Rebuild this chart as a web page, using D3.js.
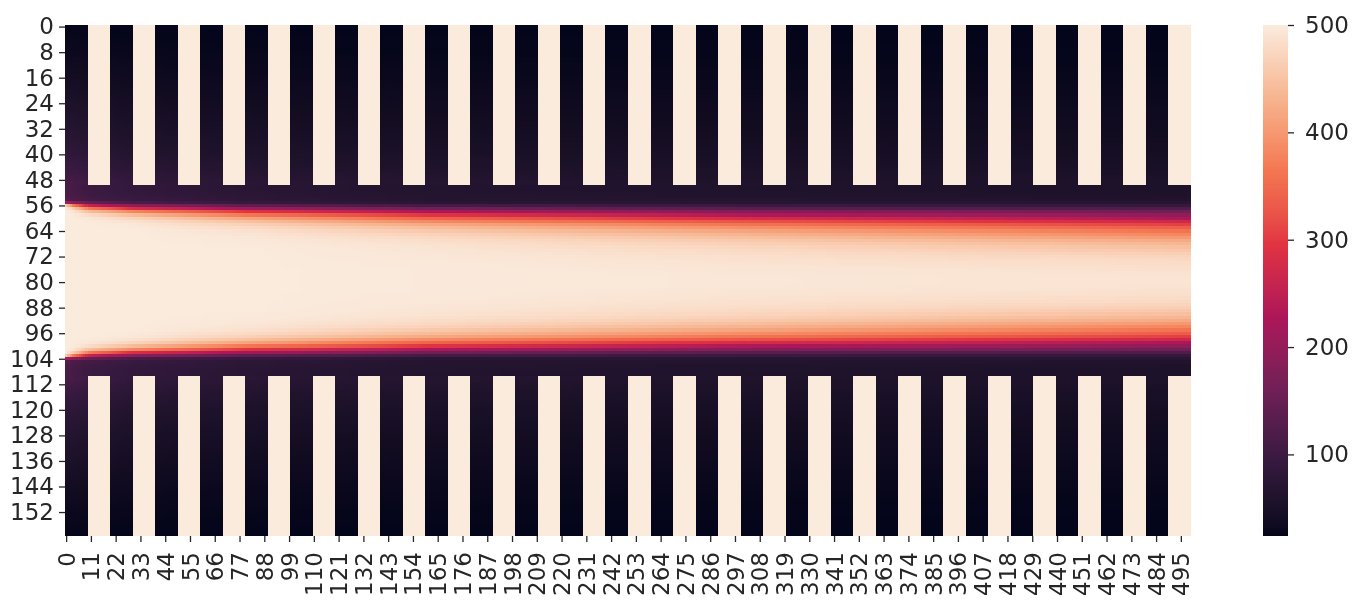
<!DOCTYPE html>
<html>
<head>
<meta charset="utf-8">
<script src="https://cdn.jsdelivr.net/npm/d3@7"></script>
<style>
  html, body { margin: 0; padding: 0; background: #fff; }
  #wrap { position: relative; width: 1366px; height: 605px; }
  canvas, svg { position: absolute; left: 0; top: 0; }
  text { font-family: "DejaVu Sans", sans-serif; }
</style>
</head>
<body>
<div id="wrap">
  <canvas id="cv" width="1366" height="605"></canvas>
  <svg id="sv" width="1366" height="605"></svg>
</div>
<script>
// ---------------- DATA ----------------
const nRows = 160;
const nCols = 500;
const vMin = 24;
const vMax = 500;
const stripeWidth = 10;          // columns per stripe (dark / hot alternating)
const bandStart = 50;            // first row of the hot channel
const bandEnd = 110;             // first row after the hot channel
const finValue = 500;            // value inside the hot stripes
const xTickStep = 11;
const yTickStep = 8;
const cbarTicks = [100, 200, 300, 400, 500];

// rocket colormap stops (fraction of range -> colour)
const rocketPos = [0, 1/7, 2/7, 3/7, 4/7, 5/7, 6/7, 1];
const rocketHex = ["#03051a", "#35193e", "#701f57", "#ad1759", "#e13342", "#f37651", "#f6b48f", "#faebdd"];

// hot channel: value at rows bandStart+k (k = 0..29), mirrored for the lower half
const bandCols = [0, 3, 10, 30, 80, 160, 300, 499];
const bandCol0   = [118,118,119,121,128,230,460,498,500,500,500,500,500,500,500,500,500,500,500,500,500,500,500,500,500,500,500,500,500,500];
const bandCol3   = [110,110,111,113,118,190,370,465,492,499,500,500,500,500,500,500,500,500,500,500,500,500,500,500,500,500,500,500,500,500];
const bandCol10  = [100,100,101,103,108,150,260,370,445,482,495,499,500,500,500,500,500,500,500,500,500,500,500,500,500,500,500,500,500,500];
const bandCol30  = [88,88,89,91,95,115,190,285,380,440,472,488,495,498,500,500,500,500,500,500,500,500,500,500,500,500,500,500,500,500];
const bandCol80  = [74,74,75,77,80,92,140,215,296,365,415,448,468,480,488,492,495,497,498,499,500,500,500,500,500,500,500,500,500,500];
const bandCol160 = [64,64,65,66,68,75,110,160,228,296,345,385,420,442,458,470,478,484,488,491,493,494,495,496,497,497,498,498,498,498];
const bandCol300 = [60,60,61,62,65,73,98,135,180,232,282,325,362,390,414,432,446,458,467,474,479,483,486,488,490,492,493,494,495,495];
const bandCol499 = [55,55,56,58,62,72,90,122,160,195,228,270,305,335,360,380,400,420,434,446,456,465,472,478,482,485,487,489,490,491];

// cold stripes: value at sample rows (distance from the outer edge), mirrored for the lower part
const darkRows = [0, 8, 16, 24, 32, 40, 45, 49];
const darkCols = [0, 25, 45, 100, 250, 499];
const darkCol0   = [26, 32, 42, 55, 68, 85, 100, 115];
const darkCol25  = [25, 29, 36, 45, 55, 68, 80, 90];
const darkCol45  = [25, 28, 33, 41, 50, 62, 73, 82];
const darkCol100 = [24, 27, 31, 37, 45, 55, 64, 72];
const darkCol250 = [24, 26, 29, 34, 40, 48, 55, 62];
const darkCol499 = [24, 25, 28, 32, 37, 44, 50, 55];

// ---------------- helpers ----------------
const bandProfiles = [bandCol0, bandCol3, bandCol10, bandCol30, bandCol80, bandCol160, bandCol300, bandCol499];
const darkProfiles = [darkCol0, darkCol25, darkCol45, darkCol100, darkCol250, darkCol499];

function between(arr, v) {
  let i = 0;
  while (i < arr.length - 2 && v > arr[i + 1]) i++;
  const t = Math.max(0, Math.min(1, (v - arr[i]) / (arr[i + 1] - arr[i])));
  return [i, t];
}
function bandValue(k, c) {
  const [i, t] = between(bandCols, c);
  return bandProfiles[i][k] * (1 - t) + bandProfiles[i + 1][k] * t;
}
function darkValue(r, c) {
  const [i, t] = between(darkCols, c);
  const [j, u] = between(darkRows, r);
  const a = darkProfiles[i][j] * (1 - u) + darkProfiles[i][j + 1] * u;
  const b = darkProfiles[i + 1][j] * (1 - u) + darkProfiles[i + 1][j + 1] * u;
  return a * (1 - t) + b * t;
}
function cellValue(r, c) {
  if (r < bandStart || r >= bandEnd) {
    const rr = r < bandStart ? r : (nRows - 1 - r);
    if (Math.floor(c / stripeWidth) % 2 === 1) return finValue;
    return darkValue(rr, c);
  }
  const k = r < (bandStart + bandEnd) / 2 ? r - bandStart : (bandEnd - 1 - r);
  return bandValue(k, c);
}

// ---------------- scales ----------------
const L = 65, R = 1191, T = 25, B = 536;
const x = d3.scaleLinear().domain([0, nCols]).range([L, R]);
const y = d3.scaleLinear().domain([0, nRows]).range([T, B]);
const color = d3.scaleLinear()
  .domain(rocketPos.map(p => vMin + p * (vMax - vMin)))
  .range(rocketHex)
  .interpolate(d3.interpolateLab)
  .clamp(true);

// ---------------- heatmap cells (canvas) ----------------
const ctx = document.getElementById("cv").getContext("2d");
for (let r = 0; r < nRows; r++) {
  const y0 = Math.round(y(r)), y1 = Math.round(y(r + 1));
  for (let c = 0; c < nCols; c++) {
    const x0 = Math.round(x(c)), x1 = Math.round(x(c + 1));
    ctx.fillStyle = color(cellValue(r, c));
    ctx.fillRect(x0, y0, x1 - x0, y1 - y0);
  }
}

// ---------------- colorbar ----------------
const CL = 1263, CR = 1288;
const cy = d3.scaleLinear().domain([vMin, vMax]).range([B, T]);
const steps = 476;
for (let i = 0; i < steps; i++) {
  const v0 = vMin + (vMax - vMin) * i / steps;
  const v1 = vMin + (vMax - vMin) * (i + 1) / steps;
  const ya = Math.floor(cy(v1)), yb = Math.ceil(cy(v0));
  ctx.fillStyle = color((v0 + v1) / 2);
  ctx.fillRect(CL, ya, CR - CL, yb - ya);
}

// ---------------- axes (svg) ----------------
const svg = d3.select("#sv");
const textColor = "#262626";

const yTicks = d3.range(0, nRows, yTickStep);
const gy = svg.append("g").attr("transform", `translate(${L},0)`)
  .call(d3.axisLeft(y).tickValues(yTicks.map(d => d + 0.5)).tickFormat(d => String(d - 0.5)).tickSize(6).tickPadding(5));
const xTicks = d3.range(0, nCols, xTickStep);
const gx = svg.append("g").attr("transform", `translate(0,${B})`)
  .call(d3.axisBottom(x).tickValues(xTicks.map(d => d + 0.5)).tickFormat(d => String(d - 0.5)).tickSize(6).tickPadding(5));
gx.selectAll("text")
  .attr("transform", "rotate(-90)")
  .attr("text-anchor", "end")
  .attr("x", -16)
  .attr("y", 0)
  .attr("dy", "0.35em");
const gc = svg.append("g").attr("transform", `translate(${CR},0)`)
  .call(d3.axisRight(cy).tickValues(cbarTicks).tickSize(6).tickPadding(11));

[gy, gx, gc].forEach(g => {
  g.select(".domain").remove();
  g.selectAll("line").attr("stroke", textColor).attr("stroke-width", 1.3);
  g.selectAll("text").attr("fill", textColor).style("font-size", "23px").style("font-family", "DejaVu Sans");
});
</script>
</body>
</html>
